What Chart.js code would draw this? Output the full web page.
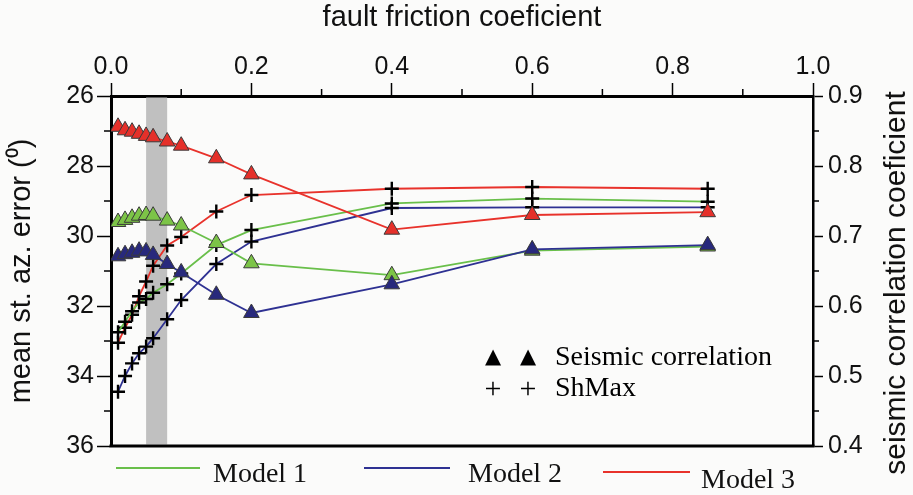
<!DOCTYPE html>
<html>
<head>
<meta charset="utf-8">
<script src="https://cdn.jsdelivr.net/npm/chart.js@4.4.1/dist/chart.umd.min.js"></script>
<style>
  html, body { margin: 0; padding: 0; background: #fbfbfa; }
  #wrap { position: relative; width: 913px; height: 495px; }
</style>
</head>
<body>
<div id="wrap"><canvas id="chart" width="913" height="495"></canvas></div>
<script>
// friction values used in the runs
const friction = [0.01, 0.02, 0.03, 0.04, 0.05, 0.06, 0.08, 0.1, 0.15, 0.2, 0.4, 0.6, 0.85];

// seismic correlation coefficient (right axis)
const corrModel1 = [0.720, 0.723, 0.726, 0.729, 0.730, 0.729, 0.722, 0.715, 0.690, 0.661, 0.644, 0.679, 0.685];
const corrModel2 = [0.671, 0.674, 0.676, 0.679, 0.678, 0.673, 0.660, 0.648, 0.616, 0.590, 0.631, 0.681, 0.687];
const corrModel3 = [0.856, 0.851, 0.849, 0.846, 0.843, 0.841, 0.835, 0.829, 0.811, 0.788, 0.709, 0.730, 0.734];

// mean ShMax azimuth error in degrees (left axis, reversed)
const shmaxModel1 = [32.75, 32.45, 32.15, 31.90, 31.80, 31.62, 31.38, 31.07, 30.26, 29.83, 29.07, 28.93, 29.02];
const shmaxModel2 = [34.45, 34.00, 33.64, 33.35, 33.16, 32.92, 32.38, 31.83, 30.80, 30.16, 29.20, 29.18, 29.18];
const shmaxModel3 = [33.05, 32.62, 32.25, 31.72, 31.30, 30.85, 30.27, 30.03, 29.30, 28.83, 28.65, 28.60, 28.65];

// shaded friction range
const bandRange = [0.05, 0.08];

const modelNames = ['Model 1', 'Model 2', 'Model 3'];
const lineColors = ['#69bf4a', '#2e3192', '#e8322b'];
const fillColors = ['#7cc447', '#28297c', '#e5302a'];

const SANS = '"Liberation Sans", Arial, sans-serif';
const NARROW = '"Liberation Sans Narrow", "Liberation Sans", Arial, sans-serif';
const SERIF = '"Liberation Serif", "Times New Roman", serif';

const pts = (ys) => friction.map((f, i) => ({ x: f, y: ys[i] }));

function triSet(i, ys) {
  return {
    label: modelNames[i] + ' seismic correlation',
    data: pts(ys),
    yAxisID: 'yCorr',
    borderColor: lineColors[i],
    borderWidth: 1.8,
    pointStyle: 'triangle',
    pointRadius: 9,
    pointBackgroundColor: fillColors[i],
    pointBorderColor: '#3a3a3a',
    pointBorderWidth: 1,
    tension: 0
  };
}

function crossSet(i, ys) {
  return {
    label: modelNames[i] + ' ShMax',
    data: pts(ys),
    yAxisID: 'yErr',
    borderColor: lineColors[i],
    borderWidth: 1.8,
    pointStyle: 'cross',
    pointRadius: 7,
    pointBorderColor: '#000',
    pointBorderWidth: 2.4,
    tension: 0
  };
}

const isEven10 = (v) => Math.round(v * 10) % 2 === 0;
const isEven = (v) => Math.round(v) % 2 === 0;
const isTenth = (v) => Math.round(v * 100) % 10 === 0;

// shaded band, bottom frame, minor ticks, right title and the two legends
const decorations = {
  id: 'decorations',
  beforeDatasetsDraw(chart) {
    const { ctx, chartArea: a, scales: { x } } = chart;
    const x0 = x.getPixelForValue(bandRange[0]);
    const x1 = x.getPixelForValue(bandRange[1]);
    ctx.save();
    ctx.fillStyle = '#c0c0c0';
    ctx.fillRect(x0, a.top + 1.5, x1 - x0, a.bottom - a.top - 3);
    ctx.restore();
  },
  afterDraw(chart) {
    const { ctx, chartArea: a, scales } = chart;
    ctx.save();
    ctx.strokeStyle = '#000';
    ctx.lineWidth = 3;
    ctx.beginPath();
    ctx.moveTo(a.left - 1.5, a.bottom);
    ctx.lineTo(a.right + 1.5, a.bottom);
    ctx.stroke();

    // minor ticks
    ctx.lineWidth = 1.5;
    ctx.beginPath();
    scales.x.ticks.forEach(t => {
      if (isEven10(t.value)) return;
      const px = scales.x.getPixelForValue(t.value);
      ctx.moveTo(px, a.top);
      ctx.lineTo(px, a.top - 7);
    });
    scales.yErr.ticks.forEach(t => {
      if (isEven(t.value)) return;
      const py = scales.yErr.getPixelForValue(t.value);
      ctx.moveTo(a.left, py);
      ctx.lineTo(a.left - 7, py);
    });
    scales.yCorr.ticks.forEach(t => {
      if (isTenth(t.value)) return;
      const py = scales.yCorr.getPixelForValue(t.value);
      ctx.moveTo(a.right, py);
      ctx.lineTo(a.right + 6, py);
    });
    ctx.stroke();

    // right axis title, reading upwards
    ctx.save();
    ctx.translate(897, (a.top + a.bottom) / 2 + 12);
    ctx.rotate(-Math.PI / 2);
    ctx.fillStyle = '#111';
    ctx.font = '30px ' + SANS;
    ctx.textAlign = 'center';
    ctx.textBaseline = 'middle';
    ctx.fillText('seismic correlation coeficient', 0, 0);
    ctx.restore();

    // symbol key inside the plot
    ctx.fillStyle = '#000';
    ctx.textBaseline = 'alphabetic';
    ctx.textAlign = 'center';
    ctx.font = '21px "DejaVu Sans", sans-serif';
    ctx.fillText('\u25B2', 493, 363);
    ctx.fillText('\u25B2', 528, 363);
    ctx.font = '30px ' + SERIF;
    ctx.fillText('+', 493, 398);
    ctx.fillText('+', 528, 398);
    ctx.textAlign = 'left';
    ctx.font = '28px ' + SERIF;
    ctx.fillText('Seismic correlation', 555, 365);
    ctx.fillText('ShMax', 555, 396);

    // model key below the plot
    const keyLines = [[116, 200, 468], [364, 450, 468], [603, 690, 472]];
    const keyText = [[213, 482], [468, 482], [701, 488]];
    keyLines.forEach((k, i) => {
      ctx.strokeStyle = lineColors[i];
      ctx.lineWidth = 1.8;
      ctx.beginPath();
      ctx.moveTo(k[0], k[2]);
      ctx.lineTo(k[1], k[2]);
      ctx.stroke();
      ctx.fillStyle = '#111';
      ctx.fillText(modelNames[i], keyText[i][0], keyText[i][1]);
    });
    ctx.restore();
  }
};

new Chart(document.getElementById('chart'), {
  type: 'line',
  data: {
    datasets: [
      triSet(1, corrModel2),
      triSet(0, corrModel1),
      triSet(2, corrModel3),
      crossSet(1, shmaxModel2),
      crossSet(0, shmaxModel1),
      crossSet(2, shmaxModel3)
    ]
  },
  options: {
    responsive: false,
    animation: false,
    layout: { padding: { top: 0, left: 0, right: 0, bottom: 49 } },
    plugins: { legend: { display: false }, tooltip: { enabled: false } },
    scales: {
      x: {
        type: 'linear',
        position: 'top',
        min: 0,
        max: 1,
        afterFit: (s) => { s.height = 96; },
        ticks: {
          stepSize: 0.1,
          autoSkip: false,
          maxRotation: 0,
          padding: 1,
          color: '#111',
          font: { family: NARROW, size: 25 },
          callback: (v) => isEven10(v) ? v.toFixed(1) : ''
        },
        grid: {
          drawOnChartArea: false,
          tickLength: 13,
          tickWidth: 1.5,
          tickColor: (c) => (c.tick && isEven10(c.tick.value)) ? '#000' : 'rgba(0,0,0,0)'
        },
        border: { display: true, width: 3, color: '#000' },
        title: {
          display: true,
          text: 'fault friction coeficient',
          color: '#111',
          font: { family: SANS, size: 29 },
          padding: { top: 1 }
        }
      },
      yErr: {
        type: 'linear',
        position: 'left',
        reverse: true,
        min: 26,
        max: 36,
        afterFit: (s) => { s.width = 111; },
        ticks: {
          stepSize: 1,
          autoSkip: false,
          padding: 3,
          color: '#111',
          font: { family: NARROW, size: 25 },
          callback: (v) => isEven(v) ? String(v) : ''
        },
        grid: {
          drawOnChartArea: false,
          tickLength: 14,
          tickWidth: 1.5,
          tickColor: (c) => (c.tick && isEven(c.tick.value)) ? '#000' : 'rgba(0,0,0,0)'
        },
        border: { display: true, width: 3, color: '#000' },
        title: {
          display: true,
          text: 'mean st. az. error (\u2070)',
          color: '#111',
          font: { family: SANS, size: 29 },
          padding: { top: 5 }
        }
      },
      yCorr: {
        type: 'linear',
        position: 'right',
        min: 0.4,
        max: 0.9,
        afterFit: (s) => { s.width = 100; },
        ticks: {
          stepSize: 0.05,
          autoSkip: false,
          padding: 5,
          color: '#111',
          font: { family: NARROW, size: 25 },
          callback: (v) => isTenth(v) ? v.toFixed(1) : ''
        },
        grid: {
          drawOnChartArea: false,
          tickLength: 10,
          tickWidth: 1.5,
          tickColor: (c) => (c.tick && isTenth(c.tick.value)) ? '#000' : 'rgba(0,0,0,0)'
        },
        border: { display: true, width: 2.5, color: '#000' }
      }
    }
  },
  plugins: [decorations]
});
</script>
</body>
</html>
